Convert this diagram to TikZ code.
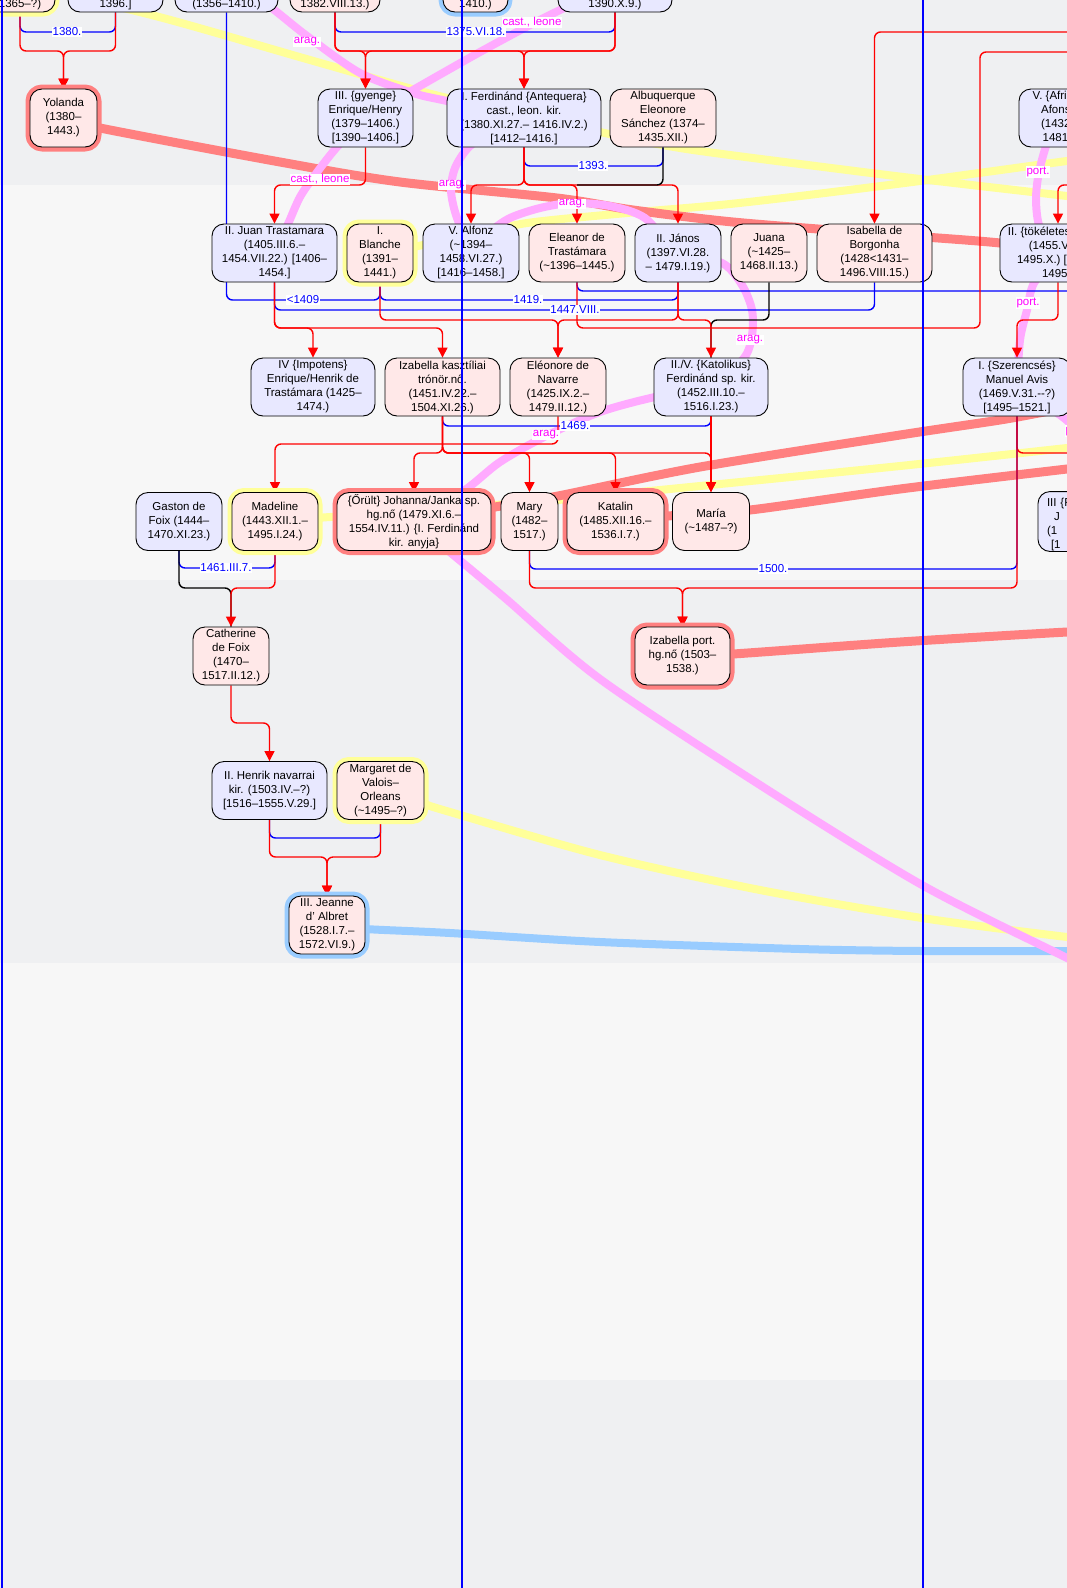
\documentclass[tikz,border=0pt]{standalone}
\usepackage{fontspec}
\setmainfont{Liberation Sans}
\usetikzlibrary{arrows.meta}
\pgfdeclarelayer{bg}\pgfdeclarelayer{thick}\pgfdeclarelayer{conn}\pgfdeclarelayer{labs}\pgfdeclarelayer{top}
\pgfsetlayers{bg,thick,conn,labs,main,top}
\definecolor{bandA}{HTML}{EFF0F2}
\definecolor{bandB}{HTML}{F7F7F7}
\definecolor{lav}{HTML}{E8E8FF}
\definecolor{rosa}{HTML}{FFE8E8}
\definecolor{glowY}{HTML}{FFFF99}
\definecolor{glowR}{HTML}{FF8080}
\definecolor{glowB}{HTML}{99CCFF}
\definecolor{pinkL}{HTML}{FFAAFF}
\definecolor{magL}{HTML}{FF00FF}
\definecolor{conB}{HTML}{0000FF}
\definecolor{conR}{HTML}{FF0000}
\begin{document}
\begin{tikzpicture}[x=1pt,y=-1pt,line join=round,
 every node/.append style={font=\fontsize{11.5}{14}\selectfont},
 pp/.style={draw=black,line width=0.9pt,rounded corners=12pt,align=center,inner sep=1pt,minimum height=58pt,execute at begin node={\rule{0pt}{13.5pt}}},
 pm/.style={pp,fill=lav}, pf/.style={pp,fill=rosa},
 gY/.style={preaction={draw=glowY,line width=9pt}},
 gR/.style={preaction={draw=glowR,line width=9pt}},
 gB/.style={preaction={draw=glowB,line width=9pt}},
 mar/.style={draw=conB,line width=1.4pt,rounded corners=6pt},
 kid/.style={draw=conR,line width=1.4pt,rounded corners=6pt},
 kidk/.style={draw=black,line width=1.4pt,rounded corners=6pt},
 arr/.style={-{Triangle[length=10pt,width=10pt]}},
 mlab/.style={fill=white,inner sep=0.6pt,text=conB},
 dlab/.style={fill=white,inner sep=0.6pt,text=magL},
 thY/.style={draw=glowY,line width=8pt},
 thR/.style={draw=glowR,line width=9pt},
 thP/.style={draw=pinkL,line width=8pt},
 thB/.style={draw=glowB,line width=8pt}]
\useasboundingbox (0,0) rectangle (1067,1588);
\begin{pgfonlayer}{bg}
\fill[bandA] (0,0) rectangle (1067,185);
\fill[bandB] (0,185) rectangle (1067,580);
\fill[bandA] (0,580) rectangle (1067,963);
\fill[bandB] (0,963) rectangle (1067,1380);
\fill[bandA] (0,1380) rectangle (1067,1588);
\end{pgfonlayer}
% ---------- nodes
\node[pf,gY,minimum width=70pt] (n1) at (20,-17) {\strut\\\strut\\\strut\\1365–?)};
\node[pm,minimum width=95pt] (n2) at (115.5,-17) {\strut\\\strut\\\strut\\1396.]};
\node[pm,minimum width=103pt] (n3) at (226.5,-17) {\strut\\\strut\\\strut\\(1356–1410.)};
\node[pf,minimum width=90pt] (n4) at (335,-17) {\strut\\\strut\\\strut\\1382.VIII.13.)};
\node[pf,gB,minimum width=65pt] (n5) at (475.5,-17) {\strut\\\strut\\\strut\\1410.)};
\node[pm,minimum width=114pt] (n6) at (615,-17) {\strut\\\strut\\\strut\\1390.X.9.)};
\node[pf,gR,minimum width=67pt] (yol) at (63.5,118) {Yolanda\\(1380–\\1443.)};
\node[pm,minimum width=95pt] (enr3) at (365.5,118) {III. \{gyenge\}\\Enrique/Henry\\(1379–1406.)\\{}[1390–1406.]};
\node[pm,minimum width=154pt] (fer1) at (524,118) {I. Ferdinánd \{Antequera\}\\cast., leon. kir.\\(1380.XI.27.– 1416.IV.2.)\\{}[1412–1416.]};
\node[pf,minimum width=106pt] (alb) at (663,118) {Albuquerque\\Eleonore\\Sánchez (1374–\\1435.XII.)};
\node[pm,minimum width=80pt] (afo5) at (1059,118) {V. \{Afrikai\}\\Afonso\\(1432–\\1481.)};
\node[pm,minimum width=125pt] (juan) at (274.5,253) {II. Juan Trastamara\\(1405.III.6.–\\1454.VII.22.) [1406–\\1454.]};
\node[pf,gY,minimum width=66pt] (bla) at (380,253) {I.\\Blanche\\(1391–\\1441.)};
\node[pm,minimum width=96pt] (alf5) at (471,253) {V. Alfonz\\(\textasciitilde1394–\\1458.VI.27.)\\{}[1416–1458.]};
\node[pf,minimum width=96pt] (ele) at (577,253) {Eleanor de\\Trastámara\\(\textasciitilde1396–1445.)};
\node[pm,minimum width=86pt] (jan2) at (678,253) {II. János\\(1397.VI.28.\\– 1479.I.19.)};
\node[pf,minimum width=76pt] (juana) at (769,253) {Juana\\(\textasciitilde1425–\\1468.II.13.)};
\node[pf,minimum width=115pt] (isb) at (874.5,253) {Isabella de\\Borgonha\\(1428<1431–\\1496.VIII.15.)};
\node[pm,minimum width=116pt] (jan2p) at (1058,253) {II. \{tökéletes\} János\\(1455.V.3.–\\1495.X.) [1481–\\1495.]};
\node[pm,minimum width=124pt] (enr4) at (313,387) {IV \{Impotens\}\\Enrique/Henrik de\\Trastámara (1425–\\1474.)};
\node[pf,minimum width=115pt] (isk) at (442.5,387) {Izabella kasztíliai\\trónör.nő.\\(1451.IV.22.–\\1504.XI.26.)};
\node[pf,minimum width=96pt] (eln) at (558,387) {Eléonore de\\Navarre\\(1425.IX.2.–\\1479.II.12.)};
\node[pm,minimum width=114pt] (fer2) at (711,387) {II./V. \{Katolikus\}\\Ferdinánd sp. kir.\\(1452.III.10.–\\1516.I.23.)};
\node[pm,minimum width=108pt] (man) at (1017,387) {I. \{Szerencsés\}\\Manuel Avis\\(1469.V.31.-{}-?)\\{}[1495–1521.]};
\node[pm,minimum width=86pt] (gas) at (179,521.5) {Gaston de\\Foix (1444–\\1470.XI.23.)};
\node[pf,gY,minimum width=86pt] (mad) at (275,521.5) {Madeline\\(1443.XII.1.–\\1495.I.24.)};
\node[pf,gR,minimum width=154pt] (joh) at (414,521.5) {\{Őrült\} Johanna/Janka sp.\\hg.nő (1479.XI.6.–\\1554.IV.11.) \{I. Ferdinánd\\kir. anyja\}};
\node[pf,minimum width=57pt] (mary) at (529.5,521.5) {Mary\\(1482–\\1517.)};
\node[pf,gR,minimum width=97pt] (kat) at (615.5,521.5) {Katalin\\(1485.XII.16.–\\1536.I.7.)};
\node[pf,minimum width=77pt] (mar) at (711,521.5) {María\\(\textasciitilde1487–?)};
\node[pm,minimum width=120pt,text width=110pt,align=left] (j3) at (1098,521.5) {\hspace*{4pt}III \{F\\\hspace*{11pt}J\\\hspace*{4pt}(1\\\hspace*{8pt}{}[1};
\node[pf,minimum width=76pt] (cat) at (231,656) {Catherine\\de Foix\\(1470–\\1517.II.12.)};
\node[pf,gR,minimum width=95pt] (izp) at (682.5,656) {Izabella port.\\hg.nő (1503–\\1538.)};
\node[pm,minimum width=115pt] (hen) at (269.5,790.5) {II. Henrik navarrai\\kir. (1503.IV.–?)\\{}[1516–1555.V.29.]};
\node[pf,gY,minimum width=87pt] (mrg) at (380.5,790.5) {Margaret de\\Valois–\\Orleans\\(\textasciitilde1495–?)};
\node[pf,gB,minimum width=76pt] (jea) at (327,925) {III. Jeanne\\d' Albret\\(1528.I.7.–\\1572.VI.9.)};
\coordinate (eR) at (1090,291);
\coordinate (rA) at (1090,32);
\coordinate (rB) at (1090,52);
\coordinate (rBc) at (980,328);
\coordinate (rC) at (1090,185);
\coordinate (rD) at (1090,453);
% ---------- thick dynasty lines
\begin{pgfonlayer}{thick}
\draw[thY] plot[smooth,tension=0.5] coordinates {(n1.center) (163,18) (317,62) (443,97) (600,132) (680,148) (800,164) (920,179) (1067,196) (1120,202)};
\draw[thY] plot[smooth,tension=0.5] coordinates {(bla.center) (418,246) (470,236) (527,223) (627,213) (720,205) (800,196) (920,181) (1067,161) (1120,155)};
\draw[thY] plot[smooth,tension=0.5] coordinates {(mad.center) (330,517) (414,512) (495,505) (558,500) (700,486) (900,466) (1067,448) (1120,442)};
\draw[thY] plot[smooth,tension=0.5] coordinates {(mrg.center) (424,804) (450,812) (600,855) (760,890) (922,918) (1067,937) (1120,942)};
\draw[thB] plot[smooth,tension=0.5] coordinates {(jea.center) (365,929) (450,933) (600,942) (800,949) (922,951) (1067,951) (1120,951)};
\draw[thR] plot[smooth,tension=0.5] coordinates {(yol.center) (100,128) (280,162) (400,182) (557,198) (633,210) (733,222) (870,233) (1000,243) (jan2p.center)};
\draw[thR] plot[smooth,tension=0.5] coordinates {(joh.center) (495,507) (558,496) (700,467) (900,435) (1000,420) (1050,411) (1120,400)};
\draw[thR] plot[smooth,tension=0.5] coordinates {(kat.center) (668,516) (750,510) (900,489) (1067,469) (1120,463)};
\draw[thR] plot[smooth,tension=0.5] coordinates {(izp.center) (733,654) (900,642) (1067,632) (1120,630)};
\draw[thP] plot[smooth,tension=0.5] coordinates {(n3.center) (261,0) (307,36) (360,73) (413,93) (447,101) (fer1.center)};
\draw[thP] plot[smooth,tension=0.5] coordinates {(fer1.center) (490,132) (468,148) (455,168) (451,190) (456,215) (alf5.center)};
\draw[thP] plot[smooth,tension=0.5] coordinates {(alf5.center) (490,232) (510,218) (540,208) (572,203) (610,206) (645,218) (jan2.center) (722,263) (742,285) (752,310) (752,335) (744,358) (fer2.center)};
\draw[thP] plot[smooth,tension=0.5] coordinates {(fer2.center) (655,397) (600,412) (546,436) (500,462) (465,490) (joh.center)};
\draw[thP] plot[smooth,tension=0.5] coordinates {(joh.center) (445,548) (505,598) (600,679) (760,785) (922,885) (1067,958) (1120,985)};
\draw[thP] plot[smooth,tension=0.5] coordinates {(n6.center) (560,10) (532,24) (480,52) (413,90) (enr3.center)};
\draw[thP] plot[smooth,tension=0.5] coordinates {(enr3.center) (337,147) (315,175) (300,197) (288,224) (juan.center)};
\draw[thP] plot[smooth,tension=0.5] coordinates {(afo5.center) (1048,140) (1039,172) (1036,200) (1040,228) (jan2p.center)};
\draw[thP] plot[smooth,tension=0.5] coordinates {(jan2p.center) (1034,283) (1027,310) (1020,340) (man.center)};
\draw[thP] plot[smooth,tension=0.5] coordinates {(man.center) (1060,415) (1080,432) (1100,445)};
\end{pgfonlayer}
% ---------- family connectors
\begin{pgfonlayer}{conn}
\draw[mar] (n1.south) -- (n1.south |- 0,32) -- (n2.south |- 0,32) -- (n2.south);
\draw[kid,arr] (n1.south) |- (yol.north |- 0,51) -- (yol.north);
\draw[kid,arr] (n2.south) |- (yol.north |- 0,51) -- (yol.north);
\draw[mar] (n4.south) -- (n4.south |- 0,32) -- (n6.south |- 0,32) -- (n6.south);
\draw[kid,arr] (n4.south) |- (enr3.north |- 0,51) -- (enr3.north);
\draw[kid,arr] (n4.south) |- (fer1.north |- 0,51) -- (fer1.north);
\draw[kid,arr] (n6.south) |- (enr3.north |- 0,51) -- (enr3.north);
\draw[kid,arr] (n6.south) |- (fer1.north |- 0,51) -- (fer1.north);
\draw[mar] (n3.south) |- (bla.south |- 0,300) -- (bla.south);
\draw[kid,arr] (enr3.south) |- (juan.north |- 0,185) -- (juan.north);
\draw[mar] (fer1.south) |- (alb.south |- 0,166) -- (alb.south);
\draw[kid,arr] (fer1.south) |- (alf5.north |- 0,185) -- (alf5.north);
\draw[kid,arr] (fer1.south) |- (ele.north |- 0,185) -- (ele.north);
\draw[kid,arr] (fer1.south) |- (jan2.north |- 0,185) -- (jan2.north);
\draw[kidk] (alb.south) |- (ele.north |- 0,185);
\draw[mar] (bla.south) |- (jan2.south |- 0,300) -- (jan2.south);
\draw[mar] (juan.south) |- (isb.south |- 0,310) -- (isb.south);
\draw[mar] (ele.south) |- (eR);
\draw[kid,arr] (juan.south) |- (enr4.north |- 0,328) -- (enr4.north);
\draw[kid,arr] (juan.south) |- (isk.north |- 0,328) -- (isk.north);
\draw[kid,arr] (bla.south) |- (eln.north |- 0,320) -- (eln.north);
\draw[kid,arr] (jan2.south) |- (eln.north |- 0,320) -- (eln.north);
\draw[kidk] (juana.south) |- (fer2.north |- 0,320) -- (fer2.north);
\draw[kid,arr] (jan2.south) |- (fer2.north |- 0,320) -- (fer2.north);
\draw[kid] (ele.south) |- (rBc) |- (rB);
\draw[kid,arr] (rA) -| (isb.north);
\draw[kid,arr] (rC) -| (jan2p.north);
\draw[kid,arr] (jan2p.south) |- (man.north |- 0,320) -- (man.north);
\draw[mar] (isk.south) |- (fer2.south |- 0,426) -- (fer2.south);
\draw[kid,arr] (isk.south) |- (joh.north |- 0,453) -- (joh.north);
\draw[kid,arr] (isk.south) |- (mary.north |- 0,453) -- (mary.north);
\draw[kid,arr] (isk.south) |- (kat.north |- 0,453) -- (kat.north);
\draw[kid,arr] (isk.south) |- (mar.north |- 0,453) -- (mar.north);
\draw[kid,arr] (fer2.south) -- (mar.north);
\draw[kid,arr] (eln.south) |- (mad.north |- 0,444) -- (mad.north);
\draw[kid] (man.south) |- (rD);
\draw[mar] (gas.south) |- (mad.south |- 0,568) -- (mad.south);
\draw[kidk] (gas.south) |- (cat.north |- 0,588) -- (cat.north);
\draw[kid,arr] (mad.south) |- (cat.north |- 0,588) -- (cat.north);
\draw[mar] (mary.south) |- (man.south |- 0,569) -- (man.south);
\draw[kid,arr] (mary.south) |- (izp.north |- 0,588) -- (izp.north);
\draw[kid,arr] (man.south) |- (izp.north |- 0,588) -- (izp.north);
\draw[kid,arr] (cat.south) |- (hen.north |- 0,723) -- (hen.north);
\draw[mar] (hen.south) |- (mrg.south |- 0,838) -- (mrg.south);
\draw[kid,arr] (hen.south) |- (jea.north |- 0,857) -- (jea.north);
\draw[kid,arr] (mrg.south) |- (jea.north |- 0,857) -- (jea.north);
\end{pgfonlayer}
% ---------- labels
\begin{pgfonlayer}{labs}
\node[mlab] (l1) at (67,32) {1380.};
\node[mlab] (l2) at (476,32) {1375.VI.18.};
\node[mlab] (l3) at (303,300) {<1409};
\node[mlab] (l4) at (593,166) {1393.};
\node[mlab] (l5) at (528,300) {1419.};
\node[mlab] (l6) at (575,310) {1447.VIII.};
\node[mlab] (l7) at (575,426) {1469.};
\node[mlab] (l8) at (226,568) {1461.III.7.};
\node[mlab] (l9) at (773,569) {1500.};
\node[dlab] (d1) at (307,42) {arag.};
\node[dlab] (d2) at (532,22) {cast., leone};
\node[dlab] (d3) at (320,179) {cast., leone};
\node[dlab] (d4) at (452,185) {arag.};
\node[dlab] (d5) at (572,204) {arag.};
\node[dlab] (d6) at (750,340) {arag.};
\node[dlab] (d7) at (546,435) {arag.};
\node[dlab] (d8) at (1038,172) {port.};
\node[dlab] (d9) at (1028,303) {port.};
\node[dlab] (d10) at (1077,431) {port.};
\end{pgfonlayer}
% ---------- vertical guide lines
\begin{pgfonlayer}{top}
\draw[conB,line width=1.3pt] (2,0) -- (2,1588);
\draw[conB,line width=1.3pt] (462,0) -- (462,1588);
\draw[conB,line width=1.3pt] (923,0) -- (923,1588);
\end{pgfonlayer}
\end{tikzpicture}
\end{document}
